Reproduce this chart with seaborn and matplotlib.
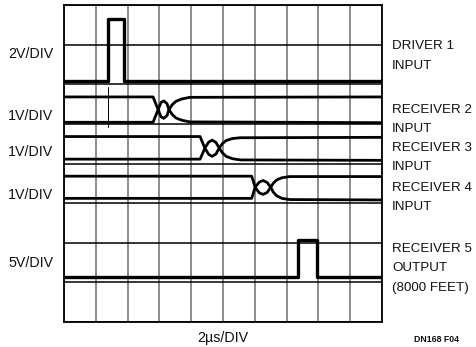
import matplotlib
matplotlib.use("Agg")
import matplotlib.pyplot as plt
import seaborn as sns
import numpy as np
import pandas as pd

sns.set_theme(style="white")
plt.rcParams['font.family'] = ['Liberation Sans', 'DejaVu Sans']

# ---- data (x in time divisions 0..10, y in vertical divisions 0..8) ----
# Driver 1 input (pulse)
drv_x = [0.0, 1.39, 1.39, 1.90, 1.90, 10.0]
drv_y = [6.09, 6.09, 7.64, 7.64, 6.09, 6.09]

# small glitch on receiver 2 at driver edge
glitch_x = [1.39, 1.39]
glitch_y = [5.93, 4.92]

# Receiver 2 input (differential pair)
r2_x = [0.0, 2.80, 2.86, 2.96, 3.05, 3.14, 3.24, 3.30, 3.40, 3.52, 3.71, 3.96, 10.0]
r2_a = [5.68, 5.68, 5.56, 5.36, 5.18, 5.14, 5.21, 5.36, 5.48, 5.57, 5.63, 5.67, 5.68]
r2_b = [5.04, 5.04, 5.16, 5.36, 5.54, 5.58, 5.51, 5.36, 5.24, 5.15, 5.09, 5.05, 5.03]

# Receiver 3 input
r3_x = [0.0, 4.28, 4.34, 4.43, 4.55, 4.66, 4.78, 4.88, 4.98, 5.10, 5.30, 5.55, 10.0]
r3_a = [4.68, 4.68, 4.56, 4.39, 4.23, 4.18, 4.24, 4.39, 4.50, 4.58, 4.63, 4.65, 4.66]
r3_b = [4.11, 4.11, 4.22, 4.39, 4.54, 4.59, 4.53, 4.39, 4.27, 4.18, 4.12, 4.09, 4.08]

# Receiver 4 input
r4_x = [0.0, 5.90, 5.95, 6.01, 6.14, 6.26, 6.39, 6.50, 6.58, 6.68, 6.85, 7.10, 10.0]
r4_a = [3.68, 3.68, 3.56, 3.40, 3.26, 3.22, 3.27, 3.40, 3.50, 3.58, 3.64, 3.67, 3.67]
r4_b = [3.12, 3.12, 3.24, 3.40, 3.53, 3.57, 3.52, 3.40, 3.28, 3.19, 3.12, 3.09, 3.08]

# Receiver 5 output (8000 feet)
r5_x = [0.0, 7.37, 7.37, 7.95, 7.95, 10.0]
r5_y = [1.14, 1.14, 2.07, 2.07, 1.14, 1.14]

left_labels = ["2V/DIV", "1V/DIV", "1V/DIV", "1V/DIV", "5V/DIV"]
left_label_y = [58.3, 120.2, 156.2, 199.2, 267.2]  # baselines (px)

right_labels = [["DRIVER 1", "INPUT"],
                ["RECEIVER 2", "INPUT"],
                ["RECEIVER 3", "INPUT"],
                ["RECEIVER 4", "INPUT"],
                ["RECEIVER 5", "OUTPUT", "(8000 FEET)"]]
right_label_y = [49.3, 112.7, 150.7, 190.7, 251.7]  # first baselines (px)

x_label = "2\u00b5s/DIV"
fig_code = "DN168 F04"

# ---- figure ----
W, H = 476, 347
fig = plt.figure(figsize=(W / 100, H / 100), dpi=100)
x0, x1, y0, y1 = 64, 382, 5, 322
ax = fig.add_axes([x0 / W, 1 - y1 / H, (x1 - x0) / W, (y1 - y0) / H])
ax.set_xlim(0, 10)
ax.set_ylim(0, 8)
ax.set_xticks(range(11))
ax.set_yticks(range(9))
ax.set_xticklabels([])
ax.set_yticklabels([])
ax.tick_params(length=0)
ax.grid(axis='x', color='#6e6e6e', lw=1.1)
ax.grid(axis='y', color='black', lw=1.1)
ax.set_axisbelow(True)
for s in ax.spines.values():
    s.set_color('black')
    s.set_linewidth(1.3)

def trace(x, y, lw):
    sns.lineplot(x=x, y=y, estimator=None, sort=False, color='black',
                 lw=lw, ax=ax, legend=False)

trace(drv_x, drv_y, 2.4)
trace(glitch_x, glitch_y, 0.7)
for xs, a, b in [(r2_x, r2_a, r2_b), (r3_x, r3_a, r3_b), (r4_x, r4_a, r4_b)]:
    trace(xs, a, 2.0)
    trace(xs, b, 2.0)
trace(r5_x, r5_y, 2.4)
ax.set_xlabel("")
ax.set_ylabel("")

fs = 10.3
for lab, yb in zip(left_labels, left_label_y):
    fig.text(8 / W, 1 - yb / H, lab, fontsize=fs, ha='left', va='baseline', color='#111')

fs_r = 9.6
for lines, yb in zip(right_labels, right_label_y):
    for i, ln in enumerate(lines):
        fig.text(392 / W, 1 - (yb + 19.4 * i) / H, ln, fontsize=fs_r,
                 ha='left', va='baseline', color='#111')

fig.text(223 / W, 1 - 342 / H, x_label, fontsize=fs, ha='center', va='baseline', color='#111')
fig.text(436 / W, 1 - 342 / H, fig_code, fontsize=6.3, ha='center', va='baseline',
         color='#111', family=['Liberation Sans Narrow', 'Liberation Sans'], weight='bold')

fig.savefig("out.png", dpi=100)
